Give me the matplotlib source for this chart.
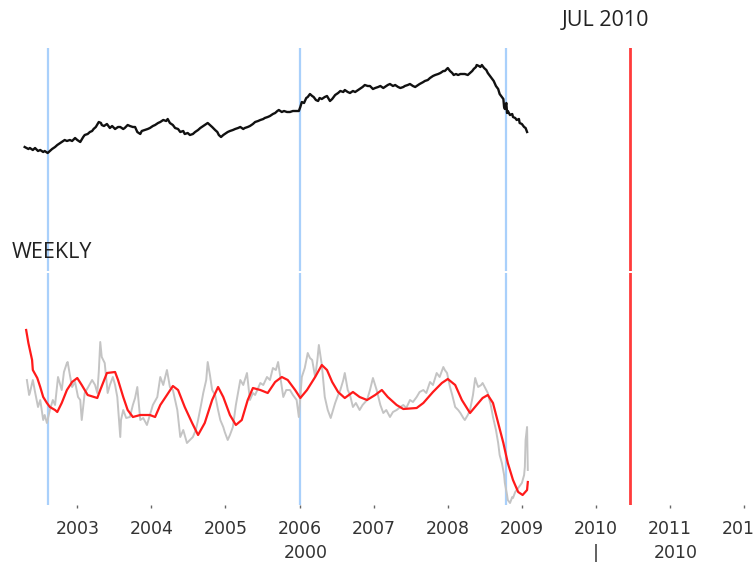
import matplotlib
matplotlib.use("Agg")
import matplotlib.pyplot as plt
import matplotlib.transforms as mtransforms

# ---------------- data ----------------
# top panel: weekly price index (black)
price_dates = [
    2002.29, 2002.34, 2002.36, 2002.40, 2002.43, 2002.47, 2002.50, 2002.54, 2002.56, 2002.60,
    2002.63, 2002.66, 2002.70, 2002.73, 2002.77, 2002.79, 2002.83, 2002.86, 2002.90, 2002.93,
    2002.97, 2003.00, 2003.04, 2003.08, 2003.10, 2003.14, 2003.17, 2003.20, 2003.22, 2003.25,
    2003.29, 2003.32, 2003.33, 2003.36, 2003.40, 2003.44, 2003.47, 2003.51, 2003.55, 2003.58,
    2003.62, 2003.64, 2003.68, 2003.71, 2003.75, 2003.78, 2003.81, 2003.85, 2003.87, 2003.91,
    2003.95, 2003.98, 2004.02, 2004.05, 2004.09, 2004.12, 2004.16, 2004.20, 2004.22, 2004.25,
    2004.29, 2004.32, 2004.36, 2004.39, 2004.43, 2004.45, 2004.49, 2004.52, 2004.56, 2004.59,
    2004.63, 2004.66, 2004.70, 2004.72, 2004.76, 2004.79, 2004.82, 2004.86, 2004.89, 2004.91,
    2004.94, 2004.97, 2004.99, 2005.03, 2005.06, 2005.10, 2005.13, 2005.17, 2005.20, 2005.24,
    2005.26, 2005.30, 2005.33, 2005.37, 2005.40, 2005.44, 2005.47, 2005.51, 2005.53, 2005.57,
    2005.60, 2005.64, 2005.67, 2005.70, 2005.72, 2005.76, 2005.79, 2005.83, 2005.87, 2005.91,
    2005.95, 2005.99, 2006.01, 2006.03, 2006.06, 2006.09, 2006.11, 2006.14, 2006.17, 2006.19,
    2006.22, 2006.25, 2006.27, 2006.30, 2006.34, 2006.37, 2006.41, 2006.44, 2006.48, 2006.52,
    2006.55, 2006.59, 2006.61, 2006.65, 2006.68, 2006.72, 2006.75, 2006.79, 2006.81, 2006.85,
    2006.88, 2006.92, 2006.95, 2006.99, 2007.02, 2007.06, 2007.09, 2007.13, 2007.15, 2007.19,
    2007.22, 2007.26, 2007.29, 2007.33, 2007.36, 2007.40, 2007.42, 2007.46, 2007.49, 2007.53,
    2007.56, 2007.60, 2007.62, 2007.67, 2007.69, 2007.73, 2007.76, 2007.80, 2007.83, 2007.87,
    2007.90, 2007.94, 2007.96, 2008.00, 2008.03, 2008.06, 2008.08, 2008.11, 2008.14, 2008.17,
    2008.21, 2008.23, 2008.27, 2008.30, 2008.33, 2008.35, 2008.38, 2008.39, 2008.42, 2008.44,
    2008.46, 2008.49, 2008.52, 2008.54, 2008.57, 2008.60, 2008.62, 2008.65, 2008.68, 2008.70,
    2008.73, 2008.75, 2008.76, 2008.77, 2008.79, 2008.80, 2008.81, 2008.84, 2008.87, 2008.88,
    2008.91, 2008.93, 2008.96, 2008.97, 2009.00, 2009.03, 2009.05, 2009.07,
]
price_values = [
    124, 122, 123, 121, 123, 120, 121, 119, 120, 118,
    120, 122, 124, 126, 128, 129, 131, 130, 131, 130,
    133, 131, 129, 134, 136, 137, 139, 140, 142, 144,
    149, 148, 146, 145, 147, 143, 145, 142, 144, 144,
    142, 143, 146, 145, 144, 144, 139, 137, 140, 141,
    142, 143, 145, 146, 148, 149, 151, 150, 152, 148,
    146, 143, 142, 139, 140, 137, 138, 136, 137, 139,
    141, 143, 145, 146, 148, 146, 144, 141, 139, 136,
    134, 136, 137, 139, 140, 141, 142, 143, 144, 142,
    143, 144, 145, 147, 149, 150, 151, 152, 153, 154,
    155, 157, 158, 160, 161, 159, 160, 159, 159, 160,
    160, 160, 164, 169, 168, 173, 174, 177, 175, 174,
    171, 170, 173, 172, 174, 175, 170, 172, 176, 178,
    180, 179, 181, 179, 178, 180, 179, 181, 182, 184,
    186, 185, 185, 182, 183, 184, 185, 183, 184, 186,
    187, 185, 186, 184, 183, 184, 185, 186, 187, 185,
    184, 186, 187, 189, 190, 191, 193, 195, 196, 197,
    198, 200, 200, 203, 200, 198, 196, 197, 196, 197,
    197, 197, 196, 198, 200, 202, 204, 206, 205, 204,
    206, 203, 201, 198, 195, 192, 190, 185, 182, 177,
    174, 172, 164, 162, 168, 158, 160, 156, 157, 154,
    153, 151, 152, 148, 147, 144, 143, 139,
]

# bottom panel: weekly indicator (grey) and its smoothed version (red)
weekly_dates = [
    2002.32, 2002.35, 2002.36, 2002.40, 2002.43, 2002.47, 2002.50, 2002.54, 2002.56, 2002.59,
    2002.63, 2002.67, 2002.70, 2002.74, 2002.77, 2002.79, 2002.82, 2002.86, 2002.87, 2002.90,
    2002.93, 2002.97, 2003.01, 2003.04, 2003.06, 2003.10, 2003.14, 2003.20, 2003.24, 2003.27,
    2003.29, 2003.31, 2003.33, 2003.37, 2003.41, 2003.44, 2003.48, 2003.51, 2003.54, 2003.58,
    2003.59, 2003.62, 2003.66, 2003.71, 2003.75, 2003.78, 2003.81, 2003.85, 2003.89, 2003.94,
    2003.98, 2004.02, 2004.08, 2004.12, 2004.16, 2004.21, 2004.25, 2004.29, 2004.35, 2004.39,
    2004.43, 2004.48, 2004.52, 2004.56, 2004.60, 2004.63, 2004.67, 2004.70, 2004.74, 2004.76,
    2004.79, 2004.82, 2004.86, 2004.90, 2004.93, 2004.97, 2004.99, 2005.03, 2005.06, 2005.10,
    2005.14, 2005.20, 2005.24, 2005.29, 2005.33, 2005.37, 2005.40, 2005.47, 2005.51, 2005.56,
    2005.60, 2005.64, 2005.68, 2005.71, 2005.74, 2005.78, 2005.82, 2005.87, 2005.91, 2005.96,
    2005.99, 2006.03, 2006.07, 2006.11, 2006.14, 2006.17, 2006.21, 2006.24, 2006.26, 2006.30,
    2006.34, 2006.38, 2006.42, 2006.48, 2006.52, 2006.55, 2006.59, 2006.61, 2006.65, 2006.68,
    2006.72, 2006.76, 2006.81, 2006.85, 2006.91, 2006.95, 2006.99, 2007.02, 2007.04, 2007.09,
    2007.13, 2007.17, 2007.22, 2007.26, 2007.31, 2007.36, 2007.40, 2007.44, 2007.49, 2007.53,
    2007.58, 2007.62, 2007.67, 2007.71, 2007.76, 2007.80, 2007.85, 2007.89, 2007.94, 2007.96,
    2007.99, 2008.03, 2008.06, 2008.10, 2008.14, 2008.17, 2008.21, 2008.23, 2008.27, 2008.30,
    2008.34, 2008.37, 2008.39, 2008.41, 2008.45, 2008.47, 2008.52, 2008.54, 2008.58, 2008.61,
    2008.65, 2008.68, 2008.70, 2008.73, 2008.76, 2008.77, 2008.80, 2008.81, 2008.84, 2008.87,
    2008.88, 2008.91, 2008.93, 2008.96, 2009.00, 2009.03, 2009.04, 2009.05, 2009.07, 2009.08,
]
weekly_values = [
    125, 110, 112, 125, 113, 98, 105, 85, 90, 82,
    95, 105, 100, 128, 120, 115, 133, 142, 143, 130,
    118, 123, 108, 105, 85, 112, 117, 125, 120, 112,
    133, 163, 148, 142, 112, 120, 128, 120, 108, 68,
    85, 95, 87, 88, 100, 107, 118, 85, 87, 80,
    90, 100, 108, 128, 120, 135, 118, 115, 95, 68,
    75, 62, 65, 68, 75, 85, 100, 112, 125, 143,
    130, 115, 110, 95, 85, 78, 73, 65, 70, 78,
    100, 125, 120, 132, 105, 112, 110, 122, 120, 128,
    125, 137, 135, 143, 128, 108, 115, 115, 110, 105,
    88, 128, 137, 152, 147, 145, 128, 145, 160, 140,
    108, 95, 87, 102, 110, 115, 125, 132, 115, 110,
    98, 102, 95, 100, 105, 115, 127, 120, 115, 100,
    92, 95, 88, 93, 95, 98, 100, 97, 105, 103,
    108, 113, 115, 112, 123, 120, 132, 128, 138, 135,
    132, 118, 110, 98, 95, 92, 87, 85, 90, 95,
    110, 127, 122, 118, 120, 122, 115, 112, 100, 88,
    75, 62, 50, 42, 30, 22, 10, 5, 2, 8,
    7, 13, 15, 18, 22, 30, 38, 65, 78, 35,
]
smooth_dates = [
    2002.31, 2002.34, 2002.39, 2002.40, 2002.46, 2002.50, 2002.54, 2002.59, 2002.63, 2002.70,
    2002.73, 2002.79, 2002.86, 2002.93, 2003.00, 2003.06, 2003.14, 2003.27, 2003.31, 2003.40,
    2003.51, 2003.55, 2003.62, 2003.68, 2003.75, 2003.85, 2003.98, 2004.05, 2004.12, 2004.21,
    2004.29, 2004.36, 2004.45, 2004.55, 2004.63, 2004.72, 2004.82, 2004.90, 2004.97, 2005.06,
    2005.14, 2005.22, 2005.30, 2005.37, 2005.47, 2005.57, 2005.67, 2005.76, 2005.84, 2005.94,
    2006.01, 2006.10, 2006.21, 2006.30, 2006.37, 2006.44, 2006.52, 2006.61, 2006.72, 2006.81,
    2006.91, 2007.02, 2007.11, 2007.19, 2007.31, 2007.40, 2007.58, 2007.67, 2007.80, 2007.92,
    2008.00, 2008.10, 2008.19, 2008.30, 2008.39, 2008.47, 2008.54, 2008.61, 2008.68, 2008.75,
    2008.81, 2008.88, 2008.95, 2009.01, 2009.07, 2009.08,
]
smooth_values = [
    175, 162, 145, 135, 127, 118, 108, 102, 98, 95,
    93, 102, 115, 123, 127, 120, 110, 107, 115, 132,
    133, 125, 108, 95, 88, 90, 90, 88, 100, 110,
    119, 115, 98, 82, 70, 82, 105, 118, 108, 90,
    80, 85, 105, 117, 115, 112, 123, 128, 125, 115,
    107, 115, 128, 140, 135, 123, 113, 107, 113, 108,
    105, 110, 115, 108, 100, 96, 97, 102, 113, 122,
    126, 120, 105, 92, 100, 107, 110, 102, 82, 62,
    42, 25, 13, 10, 15, 23,
]

event_dates = [2002.60, 2006.00, 2008.78]   # blue markers
target_date = 2010.46                        # JUL 2010 marker
year_ticks = [2003, 2004, 2005, 2006, 2007, 2008, 2009, 2010, 2011, 2012]
decade_labels = [(2006.08, "2000"), (2010.00, "|"), (2011.07, "2010")]

# ---------------- figure ----------------
W, H = 755, 569
fig = plt.figure(figsize=(W / 100, H / 100), dpi=100)

def box(top_px, bottom_px):
    return [0.0, 1 - bottom_px / H, 1.0, (bottom_px - top_px) / H]

ax_top = fig.add_axes(box(48, 271))
ax_bot = fig.add_axes(box(273, 505))

xlim = (2001.957, 2012.146)
for ax in (ax_top, ax_bot):
    ax.set_xlim(*xlim)
    for s in ax.spines.values():
        s.set_visible(False)
    ax.set_yticks([])
    for d in event_dates:
        ax.axvline(d, color="#a9d0fb", lw=1.6, zorder=1)
    ax.axvline(target_date, color="#ff3b3b", lw=2.0, zorder=1)

ax_top.set_ylim(0, 223)
ax_bot.set_ylim(0, 232)

ax_top.plot(price_dates, price_values, color="#111111", lw=1.7, zorder=3)
ax_bot.plot(weekly_dates, weekly_values, color="#c4c4c4", lw=1.4, zorder=2)
ax_bot.plot(smooth_dates, smooth_values, color="#ff1a1a", lw=1.6, zorder=3)

ax_top.set_xticks([])
ax_bot.set_xticks(year_ticks)
ax_bot.set_xticklabels([str(y) for y in year_ticks], fontfamily="DejaVu Sans",
                       fontsize=12.5, color="#333333")
ax_bot.tick_params(axis="x", length=2.5, width=1, color="#666666", pad=8)

trans = mtransforms.blended_transform_factory(ax_bot.transData, fig.transFigure)
for xd, lab in decade_labels:
    fig.text(xd, 1 - 553 / H, lab, transform=trans, ha="center", va="center",
             fontfamily="DejaVu Sans", fontsize=12.5, color="#333333")

fig.text(562 / W, 1 - 20 / H, "JUL 2010", ha="left", va="center",
         fontfamily="Open Sans", fontsize=15.5, color="#222222")
fig.text(12 / W, 1 - 253 / H, "WEEKLY", ha="left", va="center",
         fontfamily="Open Sans", fontsize=15.5, color="#222222")

fig.savefig("out.png", dpi=100)
